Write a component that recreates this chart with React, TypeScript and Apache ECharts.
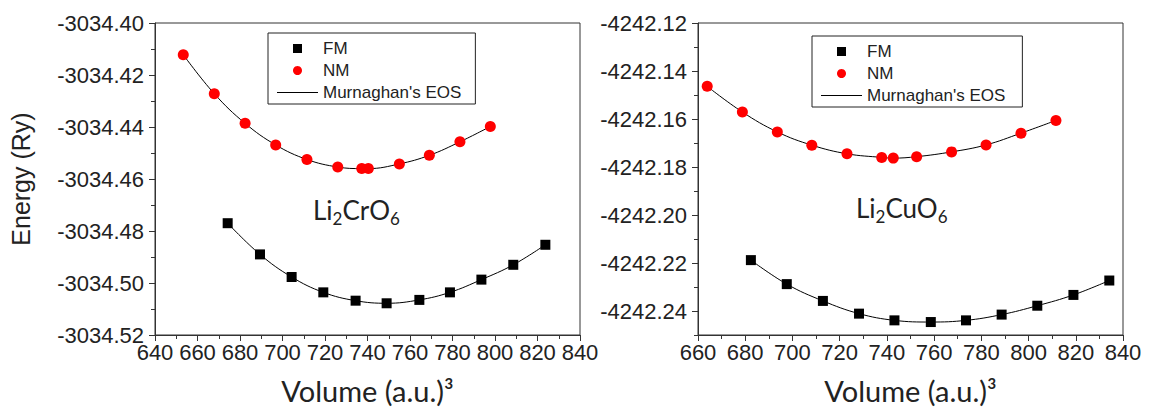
import React, { useEffect, useRef } from 'react';
import * as echarts from 'echarts';

// ---- Data: Li2CrO6 ----
const crFmVol = [674.2, 689.4, 704.3, 719.2, 734.4, 749.0, 764.4, 778.8, 793.6, 808.6, 823.7];
const crFmE = [-3034.477, -3034.489, -3034.4977, -3034.5036, -3034.5068, -3034.5078, -3034.5065, -3034.5036, -3034.4987, -3034.493, -3034.4853];
const crNmVol = [653.3, 667.9, 682.4, 696.8, 711.5, 726.0, 737.3, 740.4, 755.0, 769.1, 783.5, 797.8];
const crNmE = [-3034.4122, -3034.4272, -3034.4386, -3034.4469, -3034.4525, -3034.4554, -3034.456, -3034.456, -3034.4542, -3034.4509, -3034.4457, -3034.4398];

// ---- Data: Li2CuO6 ----
const cuFmVol = [682.4, 697.6, 712.9, 728.2, 743.2, 758.6, 773.5, 788.6, 803.7, 819.0, 834.2];
const cuFmE = [-4242.2188, -4242.2288, -4242.2358, -4242.2411, -4242.2439, -4242.2446, -4242.2439, -4242.2415, -4242.2378, -4242.2333, -4242.2273];
const cuNmVol = [663.9, 678.8, 693.6, 708.2, 723.1, 737.8, 742.7, 752.6, 767.4, 782.0, 796.8, 811.6];
const cuNmE = [-4242.1464, -4242.1571, -4242.1654, -4242.1709, -4242.1745, -4242.176, -4242.1763, -4242.1757, -4242.1737, -4242.1708, -4242.1659, -4242.1606];

// ---- Tick labels ----
const cuYMajor = [-4242.24, -4242.22, -4242.2, -4242.18, -4242.16, -4242.14, -4242.12];
const cuYMinor = [-4242.25, -4242.23, -4242.21, -4242.19, -4242.17, -4242.15, -4242.13];

const pairs = (xs: number[], ys: number[]) => xs.map((x, i) => [x, ys[i]]);

const AX = '#333';
const TXT = '#222';
const tickFont = 'Liberation Sans, Arial, sans-serif';

const baseAxis = {
  axisLine: { show: true, onZero: false, lineStyle: { color: AX, width: 1 } },
  axisTick: { show: true, length: 6, lineStyle: { color: AX } },
  minorTick: { show: true, splitNumber: 2, length: 4, lineStyle: { color: AX } },
  splitLine: { show: false },
  minorSplitLine: { show: false },
};

const xAxisFor = (gridIndex: number, min: number) => ({
  ...baseAxis,
  type: 'value',
  gridIndex,
  min,
  max: 840,
  interval: 20,
  axisLabel: { fontFamily: tickFont, fontSize: 22, color: TXT, margin: 6 },
  name: 'Volume (a.u.)\u00b3',
  nameLocation: 'middle',
  nameGap: 41,
  nameTextStyle: { fontFamily: 'Lato, sans-serif', fontSize: 29, color: TXT },
});

const legendFor = (left: number, top: number, padRight: number) => ({
  data: [
    { name: 'FM', icon: 'path://M0,0L1,0L1,1L0,1Z' },
    { name: 'NM', icon: 'circle' },
    { name: "Murnaghan's EOS", icon: 'path://M0,0L41,0L41,1L0,1Z' },
  ],
  orient: 'vertical',
  left,
  top,
  itemWidth: 41,
  itemHeight: 9,
  itemGap: 5,
  symbolKeepAspect: true,
  padding: [7, padRight, 3, 9],
  borderColor: TXT,
  borderWidth: 1,
  borderRadius: 0,
  selectedMode: false,
  textStyle: { fontFamily: tickFont, fontSize: 17, color: TXT },
});

const formulaText = (left: number, top: number, el: string) => ({
  type: 'text',
  left,
  top,
  style: {
    text: `{a|Li}{b|2}{a|${el}O}{b|6}`,
    rich: {
      a: { fontFamily: 'Lato, sans-serif', fontSize: 26, verticalAlign: 'top', fill: TXT },
      b: { fontFamily: 'Lato, sans-serif', fontSize: 17, verticalAlign: 'top', padding: [13, 0, 0, 0], fill: TXT },
    },
  },
});

const lineSeries = (xi: number, vol: number[], e: number[]) => ({
  name: "Murnaghan's EOS",
  type: 'line',
  xAxisIndex: xi,
  yAxisIndex: xi,
  data: pairs(vol, e),
  smooth: 0.4,
  symbol: 'none',
  lineStyle: { color: '#000', width: 1 },
  itemStyle: { color: '#000' },
  z: 1,
});

const scatter = (name: string, xi: number, vol: number[], e: number[], symbol: string, color: string, size: number) => ({
  name,
  type: 'scatter',
  xAxisIndex: xi,
  yAxisIndex: xi,
  data: pairs(vol, e),
  symbol,
  symbolSize: size,
  itemStyle: { color, opacity: 1 },
  z: 3,
});

const option = {
  animation: false,
  backgroundColor: '#fff',
  grid: [
    { left: 155, top: 23, width: 425, height: 315, show: true, borderColor: AX, borderWidth: 1, backgroundColor: 'transparent' },
    { left: 698, top: 23, width: 425, height: 314, show: true, borderColor: AX, borderWidth: 1, backgroundColor: 'transparent' },
  ],
  legend: [legendFor(268, 33, 14), legendFor(812, 36, 17)],
  xAxis: [xAxisFor(0, 640), xAxisFor(1, 660)],
  yAxis: [
    {
      ...baseAxis,
      type: 'value',
      gridIndex: 0,
      min: -3034.52,
      max: -3034.4,
      interval: 0.02,
      axisLabel: { fontFamily: tickFont, fontSize: 22, color: TXT, margin: 11, formatter: (v: number) => v.toFixed(2) },
      name: 'Energy (Ry)',
      nameLocation: 'middle',
      nameGap: 122,
      nameTextStyle: { fontFamily: tickFont, fontSize: 25, color: TXT },
    },
    {
      ...baseAxis,
      type: 'value',
      gridIndex: 1,
      position: 'left',
      offset: 0,
      min: -4242.25,
      max: -4242.12,
      minorTick: { show: false },
      axisTick: { show: true, length: 6, customValues: cuYMajor, lineStyle: { color: AX } },
      axisLabel: { fontFamily: tickFont, fontSize: 22, color: TXT, margin: 11, customValues: cuYMajor, formatter: (v: number) => v.toFixed(2) },
    },
    {
      type: 'value',
      gridIndex: 1,
      position: 'left',
      offset: 0,
      min: -4242.25,
      max: -4242.12,
      axisLine: { show: false },
      axisLabel: { show: false },
      splitLine: { show: false },
      axisTick: { show: true, length: 4, customValues: cuYMinor, lineStyle: { color: AX } },
    },
  ],
  graphic: [formulaText(313, 197, 'Cr'), formulaText(856, 195, 'Cu')],
  series: [
    lineSeries(0, crFmVol, crFmE),
    lineSeries(0, crNmVol, crNmE),
    scatter('FM', 0, crFmVol, crFmE, 'rect', '#000', 10),
    scatter('NM', 0, crNmVol, crNmE, 'circle', '#ff0000', 11),
    lineSeries(1, cuFmVol, cuFmE),
    lineSeries(1, cuNmVol, cuNmE),
    scatter('FM', 1, cuFmVol, cuFmE, 'rect', '#000', 10),
    scatter('NM', 1, cuNmVol, cuNmE, 'circle', '#ff0000', 11),
  ],
};

export default function App() {
  const ref = useRef<HTMLDivElement>(null);
  useEffect(() => {
    const chart = echarts.init(ref.current!, null, { renderer: 'svg' });
    chart.setOption(option as any);
    return () => chart.dispose();
  }, []);
  return <div ref={ref} style={{ position: 'fixed', left: 0, top: 0, width: 1150, height: 410 }} />;
}
